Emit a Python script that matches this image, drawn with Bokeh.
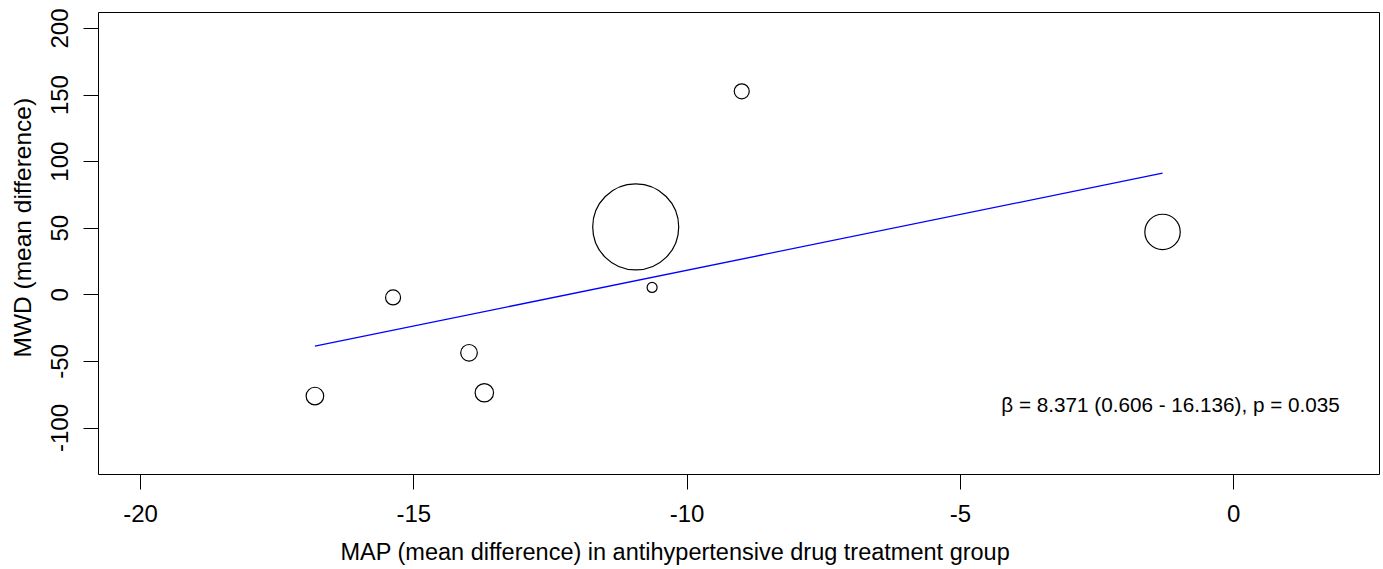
from bokeh.plotting import figure
from bokeh.models import (Range1d, FixedTicker, Label, ColumnDataSource, Title,
                          CustomJSTickFormatter)
from bokeh.embed import file_html
from bokeh.resources import INLINE

# ---- data ----
map_diff = [-16.81, -15.38, -13.99, -13.71, -10.94, -10.64, -9.00, -1.30]
mwd_diff = [-76.0, -1.95, -43.5, -73.5, 51.0, 5.55, 152.8, 47.25]
bubble_radius_px = [8.8, 7.5, 8.3, 9.2, 43.0, 5.0, 7.5, 17.7]
slope = 8.371
intercept = 102.2
x_ticks = [-20, -15, -10, -5, 0]
y_ticks = [-100, -50, 0, 50, 100, 150, 200]
annot = "\u03b2 = 8.371 (0.606 - 16.136), p = 0.035"
x_title = "MAP (mean difference) in antihypertensive drug treatment group"
y_title = "MWD (mean difference)"

FONT = "Liberation Sans"

p = figure(width=1383, height=569,
           x_range=Range1d(-20.77, 2.67), y_range=Range1d(-134.9, 212),
           output_backend="svg", toolbar_location=None,
           min_border_left=98, min_border_right=4,
           min_border_top=12, min_border_bottom=95)
p.background_fill_color = "white"
p.border_fill_color = "white"
p.outline_line_color = "black"
p.outline_line_width = 1
p.xgrid.visible = False
p.ygrid.visible = False

fmt = CustomJSTickFormatter(code="return String(Math.round(tick));")
for ax, ticks in ((p.xaxis, x_ticks), (p.yaxis, y_ticks)):
    ax.ticker = FixedTicker(ticks=ticks)
    ax.formatter = fmt
    ax.axis_line_color = None
    ax.major_tick_out = 15
    ax.major_tick_in = 0
    ax.minor_tick_line_color = None
    ax.major_tick_line_color = "black"
    ax.major_label_text_font = FONT
    ax.major_label_text_font_size = "24px"
    ax.major_label_text_color = "black"
    ax.major_label_standoff = 15

p.yaxis.major_label_orientation = "vertical"

src = ColumnDataSource(dict(x=map_diff, y=mwd_diff, r=bubble_radius_px))
p.circle("x", "y", radius="r", radius_units="screen", source=src,
         fill_color=None, line_color="black", line_width=1.2)

lx = [min(map_diff), max(map_diff)]
ly = [intercept + slope * v for v in lx]
p.line(lx, ly, line_color="#0000ff", line_width=1.3)

p.add_layout(Label(x=-1.153, y=-82.7, text=annot, text_font=FONT,
                   text_font_size="20.7px", text_align="center",
                   text_baseline="middle", text_color="black"))

# spacers between the axes and their titles
p.add_layout(Title(text=" ", text_font_size="1px", standoff=8), "below")
p.add_layout(Title(text=x_title, text_font=FONT, text_font_size="23.5px",
                   text_font_style="normal", text_color="black",
                   align="left", offset=242, standoff=2), "below")
p.add_layout(Title(text=" ", text_font_size="1px", standoff=10), "left")
p.add_layout(Title(text=y_title, text_font=FONT, text_font_size="24.5px",
                   text_font_style="normal", text_color="black",
                   align="left", offset=117, standoff=0), "left")

open("out.html", "w").write(file_html(p, INLINE))
